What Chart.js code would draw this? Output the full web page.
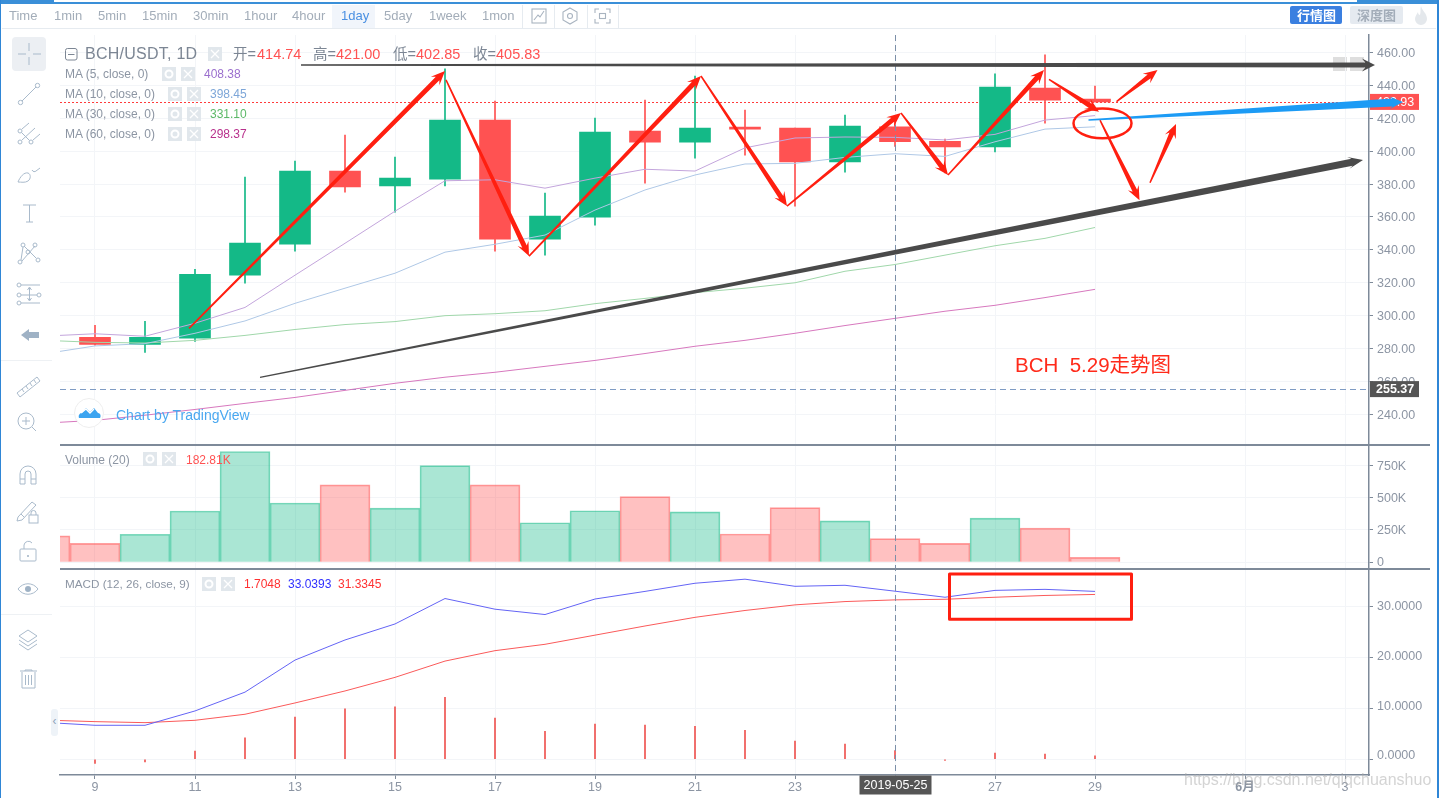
<!DOCTYPE html>
<html>
<head>
<meta charset="utf-8">
<title>BCH/USDT 1D</title>
<script src="https://cdn.jsdelivr.net/npm/chart.js@4"></script>
<style>
  html, body { margin: 0; padding: 0; background: #fff; }
  body { width: 1439px; height: 798px; position: relative; overflow: hidden;
         font-family: "Liberation Sans", "Noto Sans CJK SC", sans-serif; }
  canvas { position: absolute; left: 0; top: 0; z-index: 2; }
  .t { position: absolute; white-space: pre; line-height: 16px; z-index: 3; }
  .box { position: absolute; z-index: 1; }
  svg { position: absolute; z-index: 3; overflow: visible; }
</style>
</head>
<body>
<canvas id="chart" width="1439" height="798"></canvas>
<script>
// Daily candles (day of May 2019)
const candleDays = [9, 10, 11, 12, 13, 14, 15, 16, 17, 18, 19, 20, 21, 22, 23, 24, 25, 26, 27, 28, 29];
const opens =  [286.9, 282.6, 286.3, 324.6, 343.5, 387.9, 378.8, 383.0, 418.9, 346.5, 359.9, 412.2, 405.5, 414.7, 414.0, 393.4, 414.74, 406.0, 402.5, 438.4, 431.7];
const closes = [282.6, 286.9, 325.2, 344.1, 387.9, 378.2, 383.6, 418.9, 346.5, 360.5, 411.6, 405.5, 414.0, 413.4, 393.4, 415.3, 405.83, 402.5, 439.0, 431.0, 429.93];
const highs =  [294.2, 296.6, 328.2, 384.2, 394.0, 409.8, 396.4, 450.0, 430.5, 374.5, 420.1, 431.0, 445.7, 425.0, 414.0, 422.0, 421.00, 407.4, 447.0, 458.5, 439.6];
const lows =   [282.0, 277.7, 284.4, 319.7, 339.2, 375.1, 362.9, 378.8, 339.2, 336.8, 355.0, 380.6, 395.8, 397.6, 366.6, 387.3, 402.85, 386.7, 399.5, 417.0, 429.9];

// Moving averages and MACD start one day earlier, off the left edge
const lineDays = [8, 9, 10, 11, 12, 13, 14, 15, 16, 17, 18, 19, 20, 21, 22, 23, 24, 25, 26, 27, 28, 29];
const ma5 =  [287.6, 289.0, 287.5, 295.4, 305.0, 324.6, 344.0, 363.5, 382.0, 382.6, 377.5, 383.6, 389.0, 387.9, 402.0, 408.0, 408.6, 408.38, 406.8, 410.2, 418.9, 421.6];
const ma10 = [276.9, 281.6, 283.0, 289.3, 296.8, 307.5, 316.7, 325.8, 338.6, 343.4, 349.0, 364.2, 376.4, 385.5, 392.2, 392.6, 396.2, 398.45, 396.8, 405.7, 413.4, 414.8];
const ma30 = [285.0, 283.8, 283.4, 285.0, 288.0, 291.6, 294.6, 296.4, 300.0, 301.2, 303.0, 307.3, 310.5, 314.0, 316.7, 320.0, 327.0, 331.10, 336.8, 342.5, 347.0, 353.6];
const ma60 = [234.7, 236.4, 239.5, 243.0, 246.7, 250.3, 254.6, 258.9, 262.6, 265.6, 269.2, 272.8, 277.0, 281.4, 285.0, 289.3, 294.0, 298.37, 302.7, 306.3, 311.0, 316.0];
const macdLine =   [7.25, 6.68, 6.68, 9.5, 13.2, 19.5, 23.45, 26.6, 31.6, 29.5, 28.45, 31.5, 33.0, 34.6, 35.4, 34.0, 34.2, 33.04, 31.85, 33.2, 33.4, 33.0];
const signalLine = [7.7, 7.4, 7.2, 7.66, 8.85, 11.07, 13.43, 16.1, 19.3, 21.35, 22.6, 24.4, 26.2, 27.9, 29.25, 30.35, 31.0, 31.33, 31.45, 31.85, 32.2, 32.4];
const macdHist = [-0.8, -0.5, 1.6, 4.2, 8.3, 9.9, 10.3, 12.2, 8.1, 5.5, 6.9, 6.7, 6.5, 5.7, 3.6, 3.0, 1.7, -0.2, 1.2, 1.0, 0.7];

// Volume, including the cut-off bar for day 8
const volumeDays = [8, 9, 10, 11, 12, 13, 14, 15, 16, 17, 18, 19, 20, 21, 22, 23, 24, 25, 26, 27, 28, 29];
const volumes = [203000, 146000, 216000, 396000, 857000, 458000, 599000, 419000, 747000, 599000, 305000, 398000, 508000, 390000, 218000, 422000, 320000, 182810, 146000, 341000, 263000, 37000];
const volumeUp = [false, false, true, true, true, true, false, true, true, false, true, true, false, true, false, false, true, false, false, true, false, false];

// Axis ticks
const xTickDays = [9, 11, 13, 15, 17, 19, 21, 23, 25, 27, 29, 32, 34];
const xTickLabels = ['9', '11', '13', '15', '17', '19', '21', '23', '', '27', '29', '6月', '3'];
const priceTicks = [240, 260, 280, 300, 320, 340, 360, 380, 400, 420, 440, 460];
const volumeTicks = [0, 250000, 500000, 750000];
const volumeTickLabels = ['0', '250K', '500K', '750K'];
const macdTicks = [0, 10, 20, 30];
const macdLabelShift = [-3.3, -1.6, -0.6, 0.3]; // the labels sit a bit off their gridlines in the screenshot

// Reference levels
const lastPrice = 429.93;
const lowPrice = 255.37;
const crosshairDay = 25;

// Hand drawn marks, as [fromDay, fromPrice, toDay, toPrice]
const redArrows = [
  [10.88, 292.3, 16.00, 448.7],
  [16.02, 443.3, 17.68, 336.2],
  [17.68, 336.2, 21.12, 445.7],
  [21.12, 445.7, 22.84, 366.6],
  [22.84, 366.6, 25.12, 423.2],
  [25.12, 423.2, 26.06, 385.5],
  [26.06, 385.5, 27.98, 449.35],
  [28.08, 443.7, 29.08, 424.0],
  [29.10, 418.9, 29.89, 370.2],
  [29.43, 430.1, 30.25, 449.35],
  [30.10, 380.8, 30.62, 416.5]
];
const blackArrows = [
  [13.12, 452.4, 34.60, 452.4],
  [12.30, 262.5, 34.36, 394.6]
];
const blueArrow = [28.87, 418.9, 35.16, 429.9];
const circleMark = [29.15, 416.9, 0.58, 9.1]; // centre day, centre price, radius in days, radius in price
const macdBox = [26.09, 36.43, 29.73, 27.52]; // left day, top value, right day, bottom value

const GREEN = '#14b987';
const RED = '#ff5252';
const GRID = '#f3f5f8';
const AXIS = '#7e8a99';
const TEXT = '#8c95a3';

const isUp = candleDays.map((d, i) => closes[i] >= opens[i]);
const candleColors = isUp.map(up => up ? GREEN : RED);

function fixedTicks(values) {
  return scale => { scale.ticks = values.map(v => ({ value: v })); };
}

function yAxis(min, max, ticks, weight, stackWeight, label) {
  return {
    type: 'linear', position: 'right', stack: 'panes', stackWeight: stackWeight, weight: weight,
    min: min, max: max,
    afterBuildTicks: fixedTicks(ticks),
    afterFit: scale => { scale.width = 70; },
    grid: { color: GRID, tickColor: AXIS, tickLength: 4 },
    border: { color: AXIS, width: 1.5 },
    ticks: { color: TEXT, font: { size: 12.5, family: 'Liberation Sans' }, padding: 4, callback: label }
  };
}

function drawArrow(ctx, a, x, y, w0, w1, headLen, headW, color) {
  const x1 = x.getPixelForValue(a[0]), y1 = y.getPixelForValue(a[1]);
  const x2 = x.getPixelForValue(a[2]), y2 = y.getPixelForValue(a[3]);
  const len = Math.hypot(x2 - x1, y2 - y1);
  const ux = (x2 - x1) / len, uy = (y2 - y1) / len;
  const nx = -uy, ny = ux;
  const at = (along, side) => [x1 + ux * along + nx * side, y1 + uy * along + ny * side];
  const pts = [at(0, w0 / 2), at(len - headLen * 0.75, w1 / 2), at(len - headLen, headW / 2), at(len, 0),
               at(len - headLen, -headW / 2), at(len - headLen * 0.75, -w1 / 2), at(0, -w0 / 2)];
  ctx.beginPath();
  pts.forEach((p, i) => i ? ctx.lineTo(p[0], p[1]) : ctx.moveTo(p[0], p[1]));
  ctx.closePath();
  ctx.fillStyle = color;
  ctx.fill();
}

function priceTag(ctx, y, value, bg, weight) {
  ctx.fillStyle = bg;
  ctx.fillRect(1370, y - 8, 49, 16);
  ctx.fillStyle = '#fff';
  ctx.font = weight + ' 12.5px "Liberation Sans"';
  ctx.textAlign = 'left';
  ctx.textBaseline = 'middle';
  ctx.fillText(value.toFixed(2), 1376, y + 0.5);
}

function nudgeLabels(scale, shift) {
  scale.getLabelItems().forEach((item, i) => {
    if (!item.moved) { item.options.translation[1] += shift(i); item.moved = true; }
  });
}

// Price levels and crosshair, plus everything that was drawn over the screenshot
const overlayPlugin = {
  id: 'overlay',
  beforeDraw(chart) {
    // put the axis labels where the screenshot has them
    nudgeLabels(chart.scales.yPrice, () => 1);
    nudgeLabels(chart.scales.yVolume, i => i === 0 ? 0 : 1);
    nudgeLabels(chart.scales.yMacd, i => macdLabelShift[i]);
  },
  beforeDatasetsDraw(chart) {
    const ctx = chart.ctx, area = chart.chartArea, yP = chart.scales.yPrice;
    ctx.save();
    ctx.lineWidth = 1;
    ctx.strokeStyle = '#ff3b3b';
    ctx.setLineDash([2, 2]);
    const yLast = Math.round(yP.getPixelForValue(lastPrice)) + 0.5;
    ctx.beginPath(); ctx.moveTo(area.left, yLast); ctx.lineTo(area.right, yLast); ctx.stroke();
    ctx.strokeStyle = '#7f9cc4';
    ctx.setLineDash([6, 4]);
    const yLow = Math.round(yP.getPixelForValue(lowPrice)) + 0.5;
    ctx.beginPath(); ctx.moveTo(area.left, yLow); ctx.lineTo(area.right, yLow); ctx.stroke();
    ctx.restore();
  },
  afterDraw(chart) {
    const ctx = chart.ctx, area = chart.chartArea;
    const x = chart.scales.x, yP = chart.scales.yPrice, yM = chart.scales.yMacd;
    ctx.save();

    // crosshair and its date tag
    const cx = Math.round(x.getPixelForValue(crosshairDay)) + 0.5;
    ctx.strokeStyle = '#7b8fa8';
    ctx.lineWidth = 1;
    ctx.setLineDash([6, 4]);
    ctx.beginPath(); ctx.moveTo(cx, area.top); ctx.lineTo(cx, area.bottom); ctx.stroke();
    ctx.setLineDash([]);
    ctx.fillStyle = '#555555';
    ctx.fillRect(cx - 36, area.bottom + 0.5, 72, 19);
    ctx.fillStyle = '#fff';
    ctx.font = '12.5px "Liberation Sans"';
    ctx.textAlign = 'center';
    ctx.textBaseline = 'middle';
    ctx.fillText('2019-05-25', cx, area.bottom + 10.5);

    priceTag(ctx, yP.getPixelForValue(lastPrice), lastPrice, RED, 'normal');
    priceTag(ctx, yP.getPixelForValue(lowPrice), lowPrice, '#555555', 'bold');

    // hand drawn marks
    drawArrow(ctx, blackArrows[0], x, yP, 1.5, 5, 13, 13, '#4a4a4a');
    drawArrow(ctx, blackArrows[1], x, yP, 1.5, 7, 15, 12, '#4a4a4a');
    redArrows.forEach(a => drawArrow(ctx, a, x, yP, 1.5, 5, 14, 12, '#ff1f10'));
    drawArrow(ctx, blueArrow, x, yP, 1.5, 8, 14, 13, '#1c9bf5');

    ctx.strokeStyle = '#ff1f10';
    ctx.lineWidth = 2.5;
    ctx.beginPath();
    ctx.ellipse(x.getPixelForValue(circleMark[0]), yP.getPixelForValue(circleMark[1]),
      x.getPixelForValue(circleMark[0] + circleMark[2]) - x.getPixelForValue(circleMark[0]),
      yP.getPixelForValue(circleMark[1] - circleMark[3]) - yP.getPixelForValue(circleMark[1]),
      0, 0, Math.PI * 2);
    ctx.stroke();

    ctx.lineWidth = 3;
    ctx.lineJoin = 'round';
    const bx = x.getPixelForValue(macdBox[0]), by = yM.getPixelForValue(macdBox[1]);
    ctx.strokeRect(bx, by, x.getPixelForValue(macdBox[2]) - bx, yM.getPixelForValue(macdBox[3]) - by);
    ctx.restore();
  }
};

const chart = new Chart(document.getElementById('chart'), {
  type: 'bar',
  data: {
    datasets: [
      // wicks and bodies
      { data: candleDays.map((d, i) => ({ x: d, y: [lows[i], highs[i]] })), yAxisID: 'yPrice',
        backgroundColor: candleColors, barThickness: 1, grouped: false, order: 3 },
      { data: candleDays.map((d, i) => ({ x: d, y: [opens[i], closes[i]] })), yAxisID: 'yPrice',
        backgroundColor: candleColors, barThickness: 31, grouped: false, order: 2 },
      { type: 'line', label: 'MA5', data: lineDays.map((d, i) => ({ x: d, y: ma5[i] })), yAxisID: 'yPrice',
        borderColor: '#c3a5dc', borderWidth: 1, pointRadius: 0, tension: 0, order: 1 },
      { type: 'line', label: 'MA10', data: lineDays.map((d, i) => ({ x: d, y: ma10[i] })), yAxisID: 'yPrice',
        borderColor: '#afc8e6', borderWidth: 1, pointRadius: 0, tension: 0, order: 1 },
      { type: 'line', label: 'MA30', data: lineDays.map((d, i) => ({ x: d, y: ma30[i] })), yAxisID: 'yPrice',
        borderColor: '#a0d7aa', borderWidth: 1, pointRadius: 0, tension: 0, order: 1 },
      { type: 'line', label: 'MA60', data: lineDays.map((d, i) => ({ x: d, y: ma60[i] })), yAxisID: 'yPrice',
        borderColor: '#d778be', borderWidth: 1, pointRadius: 0, tension: 0, order: 1 },
      // volume
      { data: volumeDays.map((d, i) => ({ x: d, y: volumes[i] })), yAxisID: 'yVolume',
        backgroundColor: volumeUp.map(up => up ? 'rgba(20,185,135,0.36)' : 'rgba(255,82,82,0.36)'),
        borderColor: volumeUp.map(up => up ? 'rgba(20,185,135,0.55)' : 'rgba(255,82,82,0.55)'),
        borderWidth: 1, barThickness: 50, grouped: false, order: 2 },
      // macd
      { data: candleDays.map((d, i) => ({ x: d, y: macdHist[i] })), yAxisID: 'yMacd',
        backgroundColor: '#ef5350', barThickness: 1, grouped: false, order: 2 },
      { type: 'line', label: 'MACD', data: lineDays.map((d, i) => ({ x: d, y: macdLine[i] })), yAxisID: 'yMacd',
        borderColor: '#6464f5', borderWidth: 1, pointRadius: 0, tension: 0, order: 1 },
      { type: 'line', label: 'Signal', data: lineDays.map((d, i) => ({ x: d, y: signalLine[i] })), yAxisID: 'yMacd',
        borderColor: '#fa5a5a', borderWidth: 1, pointRadius: 0, tension: 0, order: 1 }
    ]
  },
  options: {
    responsive: false,
    animation: false,
    layout: { padding: { left: 60, top: 35, right: 0, bottom: 0 } },
    plugins: { legend: { display: false }, tooltip: { enabled: false } },
    scales: {
      x: {
        type: 'linear', offset: false, min: 8.3, max: 34.48,
        afterBuildTicks: fixedTicks(xTickDays),
        afterFit: scale => { scale.height = 23; },
        grid: { color: GRID, offset: false, tickLength: 4, tickColor: AXIS },
        border: { color: AXIS, width: 1.5 },
        ticks: {
          color: TEXT, autoSkip: false, maxRotation: 0, padding: 1,
          font: ctx => ({ size: 12.5, family: 'Liberation Sans, Noto Sans CJK SC', weight: ctx.tick && ctx.tick.value === 32 ? 'bold' : 'normal' }),
          callback: v => xTickLabels[xTickDays.indexOf(v)]
        }
      },
      yPrice: yAxis(221.7, 470.6, priceTicks, 0, 409.5, v => v.toFixed(2)),
      yVolume: yAxis(-49000, 911000, volumeTicks, 1, 124, v => volumeTickLabels[volumeTicks.indexOf(v)]),
      yMacd: yAxis(-3.09, 37.5, macdTicks, 2, 206.5, v => v.toFixed(4))
    }
  },
  plugins: [overlayPlugin]
});

// ---- page furniture around the chart ----
function addText(str, left, top, size, color, extra) {
  const el = document.createElement('div');
  el.className = 't';
  el.textContent = str;
  el.style.cssText = `left:${left}px;top:${top}px;font-size:${size}px;color:${color};` + (extra || '');
  document.body.appendChild(el);
  return el;
}
function addBox(left, top, w, h, bg, extra) {
  const el = document.createElement('div');
  el.className = 'box';
  el.style.cssText = `left:${left}px;top:${top}px;width:${w}px;height:${h}px;background:${bg};` + (extra || '');
  document.body.appendChild(el);
  return el;
}
function addSvg(left, top, w, h, inner) {
  const wrap = document.createElement('div');
  wrap.innerHTML = `<svg style="left:${left}px;top:${top}px" width="${w}" height="${h}" viewBox="0 0 ${w} ${h}">${inner}</svg>`;
  document.body.appendChild(wrap.firstChild);
}

// window frame
addBox(0, 0, 1439, 4, '#3a8fd8', 'z-index:5');
addBox(54, 0, 1303, 2, '#fff', 'z-index:6');
addBox(0, 0, 1, 798, '#2f86d6', 'z-index:5');
addBox(1436.5, 0, 2.5, 798, '#2f86d6', 'z-index:5');

// top toolbar
addBox(2, 27.5, 1434, 1, '#e6ebf0');
addBox(332, 5, 43, 23, '#f1f5fb');
const intervals = [['Time', 9], ['1min', 54], ['5min', 98], ['15min', 142], ['30min', 193], ['1hour', 244], ['4hour', 292], ['5day', 384], ['1week', 429], ['1mon', 482]];
intervals.forEach(it => addText(it[0], it[1], 8, 13, '#a3adb9'));
addText('1day', 341, 8, 13, '#4a90e2');
[522, 554, 587, 618].forEach(x => addBox(x, 5, 1, 23, '#e6ebf0'));
addSvg(530, 6, 90, 20,
  `<g fill="none" stroke="#a9b4c0" stroke-width="1.1">
   <rect x="2" y="3" width="14" height="14"/><path d="M4 14l4-5 2 2 4-6"/>
   <path d="M40 2l7 4v8l-7 4-7-4V6z"/><circle cx="40" cy="10" r="2.5"/>
   <path d="M65 7V3h4M76 3h4v4M80 13v4h-4M69 17h-4v-4"/><rect x="69.5" y="7.5" width="6" height="5"/></g>`);
addBox(1290, 6, 52, 18, '#3a7fe0', 'border-radius:2px;z-index:3');
addText('行情图', 1297, 7, 13, '#fff', 'font-weight:bold;font-family:"Noto Sans CJK SC"');
addBox(1350, 6, 53, 18, '#e5eaf0', 'border-radius:2px;z-index:3');
addText('深度图', 1357, 7, 13, '#a3adb9', 'font-weight:bold;font-family:"Noto Sans CJK SC"');
addSvg(1414, 5, 14, 22, '<path d="M7 1c1 5 6 7 6 13a6 6 0 0 1-12 0c0-3 2-5 3-7 0 2 1 3 2 3 1-3 0-6 1-9z" fill="#e4e8ec"/>');

// left toolbar
addBox(12, 37, 34, 34, '#eceff3', 'border-radius:4px');
addBox(0, 360, 52, 1, '#eef1f4');
addBox(0, 614, 52, 1, '#eef1f4');
addBox(51, 709, 7, 27, '#eef3f8', 'border-radius:3px;z-index:3');
addText('‹', 52.5, 713, 12, '#8fa3b8');
addSvg(0, 0, 60, 798,
  `<g fill="none" stroke="#a9bacb" stroke-width="1">
   <path d="M29 43v8M29 57v8M18 54h8M33 54h8"/>
   <circle cx="20.5" cy="102.5" r="2.2"/><circle cx="37.5" cy="85.5" r="2.2"/><path d="M22 101l14-14"/>
   <circle cx="20" cy="131" r="2"/><circle cx="20" cy="142" r="2"/><circle cx="31" cy="142" r="2"/>
   <path d="M22 129l7-6M21.500 132.500l8 8M22 140l13-12M33 140l7-6"/>
   <path d="M18 182c2-5 6-10 10-9 3 1 3 6 0 8-3 2-7 1-10 1zM32 170c1 2 3 2 4 1l4-3"/>
   <path d="M23 205h13M29.500 205v17M26 222h7"/>
   <circle cx="23" cy="245" r="2"/><circle cx="35" cy="245" r="2"/><circle cx="20" cy="262" r="2"/><circle cx="38" cy="260" r="2"/><circle cx="28" cy="252" r="2"/>
   <path d="M23 247l-2 13M22 261l13-15M24 246l12 12"/>
   <circle cx="19" cy="285" r="2"/><circle cx="19" cy="295" r="2"/><circle cx="39" cy="295" r="2"/><circle cx="19" cy="303" r="2"/>
   <path d="M21 285h19M21 295h16M21 303h19M29.500 288v12M27.500 290l2-3 2 3M27.500 298l2 3 2-3"/>
   <path d="M17 393l20-16 3 4-20 16zM22 389l2 3M26 386l2 3M30 383l2 3M34 380l2 3"/>
   <circle cx="26" cy="421" r="8"/><path d="M32 427l4 4M26 417v8M22 421h8"/>
   <path d="M20 484v-10a8 8 0 0 1 16 0v10h-5v-10a3 3 0 0 0-6 0v10zM20 479h5M31 479h5"/>
   <path d="M18 517l14-15 4 3-14 15-5 1zM21 514l3 3"/><rect x="29" y="515" width="9" height="8"/><path d="M31 515v-2a2.500 2.500 0 0 1 5 0v2"/>
   <rect x="20" y="549" width="16" height="12" rx="1"/><path d="M24 549v-4a4.500 4.500 0 0 1 8-2"/>
   <path d="M18 589c5-7 15-7 20 0-5 7-15 7-20 0z"/>
   <path d="M28 630l9 6-9 6-9-6zM19 640l9 6 9-6M19 644l9 6 9-6"/>
   <path d="M20 671h17M25 671v-1h7v1M22 672v16h13v-16M25.500 675v10M28.500 675v10M31.500 675v10"/></g>
   <circle cx="28" cy="589" r="3" fill="#9fb2c5"/>
   <circle cx="28" cy="556" r="1" fill="#9fb2c5"/>
   <path d="M21 335l8-6v3h10v6H29v3z" fill="#9fb2c5"/>`);

// indicator control buttons, a gear and a cross on grey
function controls(x1, x2, y) {
  addSvg(x1, y, x2 - x1 + 14, 14,
    `<rect width="14" height="14" fill="#e1e7ec"/><circle cx="7" cy="7" r="3.500" fill="none" stroke="#fff" stroke-width="2"/>
     <rect x="${x2 - x1}" width="14" height="14" fill="#e1e7ec"/><path d="M${x2 - x1 + 3} 3l8 8M${x2 - x1 + 11} 3l-8 8" stroke="#fff" stroke-width="1.3"/>`);
}

// main pane legend
addSvg(65, 48, 13, 13, '<rect x="0.5" y="0.5" width="11.500" height="11.500" rx="2" fill="none" stroke="#7c8694"/><path d="M3 6.500h6.500" stroke="#7c8694"/>');
addText('BCH/USDT, 1D', 85, 46, 16, '#7c8694', 'letter-spacing:0.25px');
controls(208, 208, 47);
addText('开=', 233, 46, 14.5, '#7c8694');
addText('414.74', 257, 46, 14.5, RED);
addText('高=', 313, 46, 14.5, '#7c8694');
addText('421.00', 336, 46, 14.5, RED);
addText('低=', 393, 46, 14.5, '#7c8694');
addText('402.85', 416, 46, 14.5, RED);
addText('收=', 473, 46, 14.5, '#7c8694');
addText('405.83', 496, 46, 14.5, RED);

addText('MA (5, close, 0)', 65, 66, 12, TEXT);
controls(162, 181, 67);
addText('408.38', 204, 66, 12, '#9b6fce');
addText('MA (10, close, 0)', 65, 86, 12, TEXT);
controls(168, 187, 87);
addText('398.45', 210, 86, 12, '#7da6d8');
addText('MA (30, close, 0)', 65, 106, 12, TEXT);
controls(168, 187, 107);
addText('331.10', 210, 106, 12, '#5cb868');
addText('MA (60, close, 0)', 65, 126, 12, TEXT);
controls(168, 187, 127);
addText('298.37', 210, 126, 12, '#b8308c');

// small faded buttons at the right of the price pane
addBox(1333, 57, 14, 14, '#dedede');
addBox(1350, 57, 14, 14, '#dedede');

// drawn caption
addText('BCH  5.29走势图', 1015, 354, 20.5, '#ff2a1a', 'line-height:22px;font-family:"Liberation Sans","Noto Sans CJK SC"');

// TradingView logo
addSvg(74, 398, 30, 30,
  `<circle cx="15" cy="15" r="14.500" fill="#fff" stroke="#eeeeee"/>
   <path d="M5 20c-1-3 1-5 3-5l4-5 4 4 4-4 4 5c3 0 3 4 2 5z" fill="#3ba4f0"/>
   <path d="M7 15l5-4 4 4 4-4" fill="none" stroke="#fff" stroke-width="1.4"/>`);
addText('Chart by TradingView', 116, 407, 14, '#4aa8f0');

// pane separators
addBox(60, 444, 1370, 1.5, AXIS, 'z-index:3');
addBox(60, 568, 1370, 1.5, AXIS, 'z-index:3');

// volume and macd legends
addText('Volume (20)', 65, 452, 12, TEXT);
controls(143, 162, 452);
addText('182.81K', 186, 452, 12, RED);
addText('MACD (12, 26, close, 9)', 65, 576, 11.7, TEXT);
controls(202, 221, 577);
addText('1.7048', 244, 576, 12, '#ff3030');
addText('33.0393', 288, 576, 12, '#3030ff');
addText('31.3345', 338, 576, 12, '#ff3030');

// image host watermark
addText('https://blog.csdn.net/qiqchuanshuo', 1184, 772, 16, 'rgba(170,170,170,0.5)', 'z-index:6');
</script>
</body>
</html>
